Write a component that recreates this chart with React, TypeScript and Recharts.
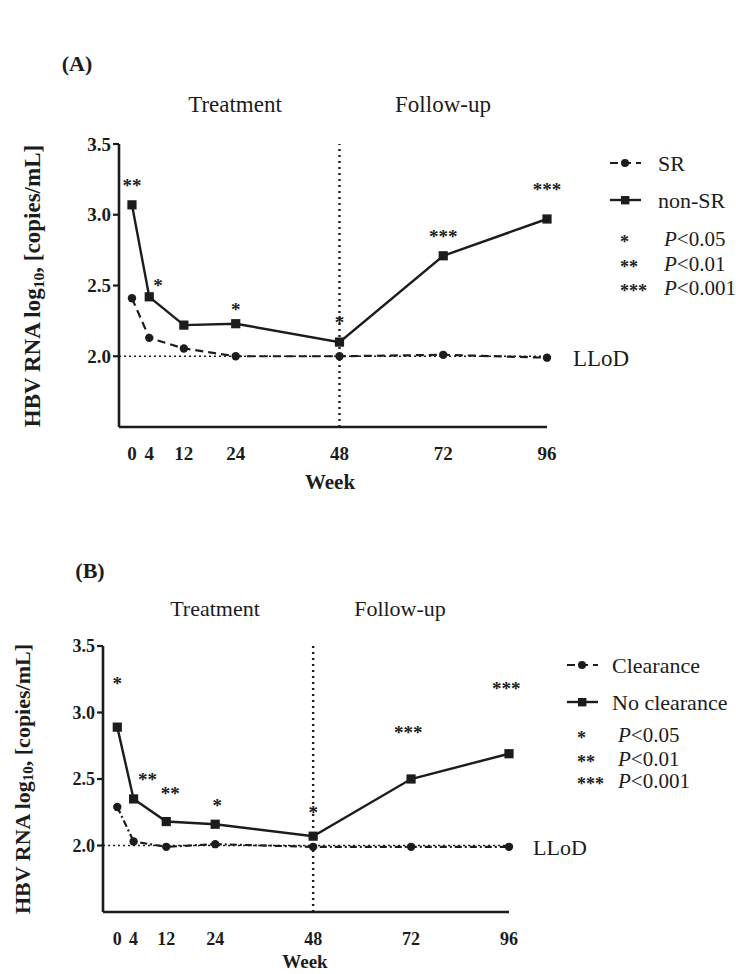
import React from 'react';
import {
    ComposedChart,
    Line,
    Scatter,
    XAxis,
    YAxis,
    ReferenceLine
} from 'recharts';

// weeks on the x axis
const weeks = [0, 4, 12, 24, 48, 72, 96];
const yTicks = [2.0, 2.5, 3.0, 3.5];

// panel A: SR vs non-SR
const srValues = [2.41, 2.13, 2.055, 2.0, 2.0, 2.01, 1.99];
const nonSrValues = [3.07, 2.42, 2.22, 2.23, 2.1, 2.71, 2.97];
const starWeeksA = [0, 6, 24, 48, 72, 96];
const starValuesA = [3.23, 2.52, 2.35, 2.26, 2.87, 3.2];
const starMarksA = ['**', '*', '*', '*', '***', '***'];

// panel B: clearance vs no clearance
const clearanceValues = [2.29, 2.03, 1.99, 2.01, 1.99, 1.99, 1.99];
const noClearanceValues = [2.89, 2.35, 2.18, 2.16, 2.07, 2.5, 2.69];
const starWeeksB = [0, 7.4, 13, 24.5, 48, 71.3, 95.3];
const starValuesB = [3.24, 2.52, 2.41, 2.32, 2.27, 2.87, 3.2];
const starMarksB = ['*', '**', '**', '*', '*', '***', '***'];

const SERIF = '"Liberation Serif", "Times New Roman", serif';
const INK = '#1c1c1c';

const CircleDot = (props: any) => {
    const { cx, cy, index } = props;
    if (cx == null || cy == null) return null;
    return <circle key={`c-${index}`} cx={cx} cy={cy} r={4.2} fill={INK} />;
};

const SquareDot = (props: any) => {
    const { cx, cy, index } = props;
    if (cx == null || cy == null) return null;
    return <rect key={`s-${index}`} x={cx - 4.6} y={cy - 4.6} width={9.2} height={9.2} fill={INK} />;
};

const StarShape = (props: any) => {
    const { cx, cy, payload, fontSize } = props;
    return (
        <text x={cx} y={cy} dy={fontSize * 0.5} textAnchor="middle" fontSize={fontSize} fontWeight={700} fill={INK} fontFamily={SERIF}>
            {payload.mark}
        </text>
    );
};

interface PanelProps {
    top: number;
    height: number;
    margin: { top: number; right: number; bottom: number; left: number };
    xMin: number;
    groupA: number[];
    groupB: number[];
    dashA: string;
    starWeeks: number[];
    starValues: number[];
    starMarks: string[];
    tickSize: number;
}

const Panel: React.FC<PanelProps> = (p) => {
    const rows = weeks.map((w, i) => ({ week: w, a: p.groupA[i], b: p.groupB[i] }));
    const stars = p.starWeeks.map((w, i) => ({ week: w, value: p.starValues[i], mark: p.starMarks[i] }));
    const tick = { fontSize: p.tickSize, fontWeight: 700, fill: INK, fontFamily: SERIF };

    return (
        <div style={{ position: 'absolute', left: 0, top: p.top }}>
            <ComposedChart width={736} height={p.height} data={rows} margin={p.margin}>
                <XAxis
                    dataKey="week"
                    type="number"
                    domain={[p.xMin, 96]}
                    ticks={weeks}
                    interval={0}
                    tickLine={false}
                    tickSize={8}
                    tickMargin={12}
                    height={40}
                    axisLine={{ stroke: INK, strokeWidth: 2.6 }}
                    tick={tick}
                />
                <YAxis
                    type="number"
                    domain={[1.5, 3.5]}
                    ticks={yTicks}
                    tickFormatter={(v: number) => v.toFixed(1)}
                    width={60}
                    tickSize={6}
                    tickMargin={2}
                    axisLine={{ stroke: INK, strokeWidth: 2.6 }}
                    tickLine={{ stroke: INK, strokeWidth: 2.2 }}
                    tick={tick}
                />
                <ReferenceLine y={2} stroke={INK} strokeWidth={1.4} strokeDasharray="2 3" />
                <ReferenceLine x={48} stroke={INK} strokeWidth={2.4} strokeDasharray="2 4" />

                {/* group that drops to the detection limit */}
                <Line
                    dataKey="a"
                    stroke={INK}
                    strokeWidth={2.2}
                    strokeDasharray={p.dashA}
                    dot={CircleDot}
                    activeDot={false}
                    isAnimationActive={false}
                />
                {/* group that rebounds */}
                <Line
                    dataKey="b"
                    stroke={INK}
                    strokeWidth={2.4}
                    dot={SquareDot}
                    activeDot={false}
                    isAnimationActive={false}
                />
                <Scatter
                    data={stars}
                    dataKey="value"
                    shape={(props: any) => <StarShape {...props} fontSize={19} />}
                    isAnimationActive={false}
                />
            </ComposedChart>
        </div>
    );
};

const T = (props: any) => (
    <text fontFamily={SERIF} fill={INK} dominantBaseline="central" {...props} />
);

const YLabel = ({ x, y, size }: { x: number; y: number; size: number }) => (
    <text
        transform={`translate(${x},${y}) rotate(-90)`}
        textAnchor="middle"
        dominantBaseline="central"
        fontFamily={SERIF}
        fontWeight={700}
        fontSize={size}
        fill={INK}
    >
        HBV RNA log
        <tspan fontSize={size * 0.68} dy={size * 0.25}>10</tspan>
        <tspan dy={-size * 0.25}>, [copies/mL]</tspan>
    </text>
);

const LegendBlock = ({ x, y, size, labels, textX }: { x: number; y: number; size: number; labels: string[]; textX: number }) => (
    <g>
        <line x1={x} x2={x + 31} y1={y} y2={y} stroke={INK} strokeWidth={2} strokeDasharray="8 5" />
        <circle cx={x + 15} cy={y} r={4} fill={INK} />
        <T x={textX} y={y} fontSize={size}>{labels[0]}</T>
        <line x1={x} x2={x + 31} y1={y + 37} y2={y + 37} stroke={INK} strokeWidth={2.4} />
        <rect x={x + 11} y={y + 33} width={8.4} height={8.4} fill={INK} />
        <T x={textX} y={y + 37} fontSize={size}>{labels[1]}</T>
    </g>
);

const PLegend = ({ x, textX, ys, size }: { x: number; textX: number; ys: number[]; size: number }) => {
    const marks = ['*', '**', '***'];
    const vals = ['<0.05', '<0.01', '<0.001'];
    return (
        <g>
            {ys.map((y, i) => (
                <g key={i}>
                    <text x={x} y={y + 9} fontFamily={SERIF} fontWeight={700} fontSize={18} fill={INK}>{marks[i]}</text>
                    <T x={textX} y={y} fontSize={size}>
                        <tspan fontStyle="italic">P</tspan>{vals[i]}
                    </T>
                </g>
            ))}
        </g>
    );
};

export default function App() {
    return (
        <div style={{ position: 'absolute', left: 0, top: 0, width: 736, height: 974, background: '#fff', fontFamily: SERIF }}>
            <Panel
                top={0}
                height={490}
                margin={{ top: 144, right: 189, bottom: 23, left: 59 }}
                xMin={-3}
                groupA={srValues}
                groupB={nonSrValues}
                dashA="8 5"
                starWeeks={starWeeksA}
                starValues={starValuesA}
                starMarks={starMarksA}
                tickSize={19}
            />
            <Panel
                top={490}
                height={484}
                margin={{ top: 156, right: 227, bottom: 22, left: 43 }}
                xMin={-3.5}
                groupA={clearanceValues}
                groupB={noClearanceValues}
                dashA="7 3 2 3"
                starWeeks={starWeeksB}
                starValues={starValuesB}
                starMarks={starMarksB}
                tickSize={18}
            />

            <svg width={736} height={974} style={{ position: 'absolute', left: 0, top: 0, pointerEvents: 'none' }}>
                {/* panel A text */}
                <T x={77} y={63} fontSize={22} fontWeight={700} textAnchor="middle">(A)</T>
                <T x={235} y={104} fontSize={23} textAnchor="middle">Treatment</T>
                <T x={443} y={104} fontSize={23} textAnchor="middle">Follow-up</T>
                <YLabel x={32} y={286} size={23} />
                <T x={330} y={482} fontSize={21} fontWeight={700} textAnchor="middle">Week</T>
                <T x={573} y={358} fontSize={23}>LLoD</T>
                <LegendBlock x={610} y={163} size={22} labels={['SR', 'non-SR']} textX={658} />
                <PLegend x={620} textX={664} ys={[239, 264, 288]} size={21} />

                {/* panel B text */}
                <T x={90} y={570} fontSize={22} fontWeight={700} textAnchor="middle">(B)</T>
                <T x={215} y={608} fontSize={22} textAnchor="middle">Treatment</T>
                <T x={400} y={608} fontSize={22} textAnchor="middle">Follow-up</T>
                <YLabel x={22} y={779} size={22} />
                <T x={305} y={961} fontSize={19} fontWeight={700} textAnchor="middle">Week</T>
                <T x={533} y={847} fontSize={22}>LLoD</T>
                <LegendBlock x={567} y={665} size={22} labels={['Clearance', 'No clearance']} textX={612} />
                <PLegend x={577} textX={618} ys={[735, 759, 781]} size={21} />
            </svg>
        </div>
    );
}
